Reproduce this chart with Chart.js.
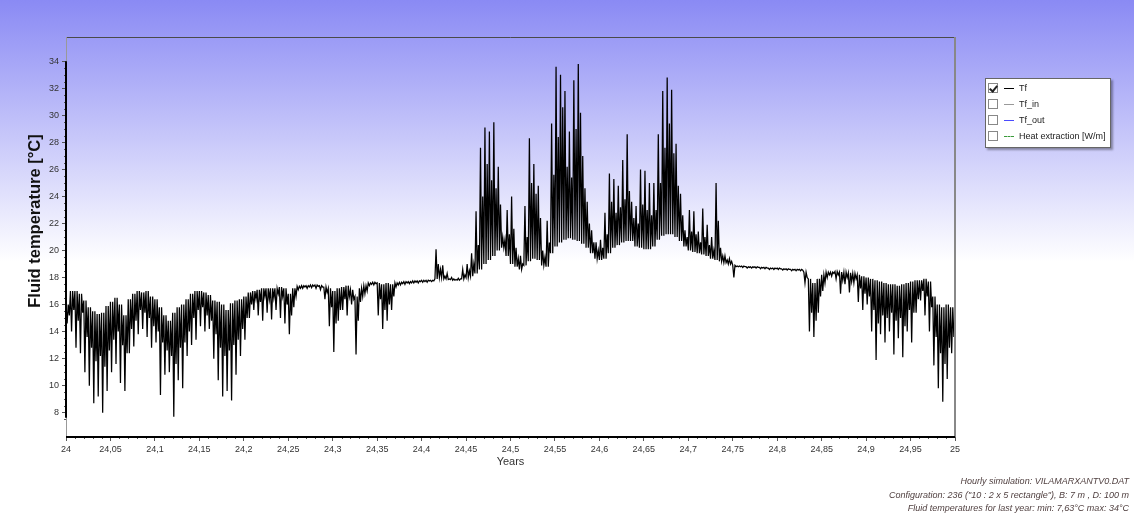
<!DOCTYPE html>
<html>
<head>
<meta charset="utf-8">
<title>Fluid temperature</title>
<script src="https://cdn.jsdelivr.net/npm/chart.js@4.4.1/dist/chart.umd.min.js"></script>
<style>
  html, body { margin: 0; padding: 0; }
  body {
    width: 1134px; height: 518px; overflow: hidden; position: relative;
    background: linear-gradient(to bottom, #8a8af4 0px, #ffffff 262px, #ffffff 518px);
    font-family: "Liberation Sans", Arial, sans-serif;
  }
  #chart { position: absolute; left: 0; top: 0; }
  .legend {
    position: absolute; left: 985px; top: 78px; width: 124px; height: 68px;
    background: #fff; border: 1px solid #666; box-shadow: 2px 2px 2px rgba(0,0,0,0.35);
    font-size: 9px; color: #222;
  }
  .legend .row { position: absolute; left: 2px; height: 12px; line-height: 12px; }
  .legend .box { position: absolute; left: 0; top: 1px; width: 8px; height: 8px; border: 1px solid #888; background: #fff; }
  .legend .tick {
    position: absolute; left: 2px; top: 0px; width: 3px; height: 6px;
    border-right: 2px solid #222; border-bottom: 2px solid #222; transform: rotate(40deg);
  }
  .legend .swatch { position: absolute; left: 16px; top: 6px; width: 10px; height: 0; border-top: 1px solid #000; }
  .legend .label { position: absolute; left: 31px; top: 0; white-space: nowrap; }
  .footer {
    position: absolute; right: 5px; top: 475px; text-align: right;
    font-style: italic; font-size: 9px; color: #4f3f3f; line-height: 13.5px; white-space: nowrap;
  }
</style>
</head>
<body>
<canvas id="chart" width="1134" height="518"></canvas>

<div class="legend">
  <div class="row" style="top:3px"><span class="box"><span class="tick"></span></span><span class="swatch" style="border-color:#000"></span><span class="label">Tf</span></div>
  <div class="row" style="top:19px"><span class="box"></span><span class="swatch" style="border-color:#999"></span><span class="label">Tf_in</span></div>
  <div class="row" style="top:35px"><span class="box"></span><span class="swatch" style="border-color:#4a4aff"></span><span class="label">Tf_out</span></div>
  <div class="row" style="top:51px"><span class="box"></span><span class="swatch" style="border-top:1px dashed #3a9a3a"></span><span class="label">Heat extraction [W/m]</span></div>
</div>

<div class="footer">
  <div>Hourly simulation: VILAMARXANTV0.DAT</div>
  <div>Configuration: 236 ("10 : 2 x 5 rectangle"), B: 7 m , D: 100 m</div>
  <div>Fluid temperatures for last year: min: 7,63°C max: 34°C</div>
</div>

<script>
// one sample every 0.005 year, starting at year 24
const YEAR_START = 24;
const STEP = 0.005;

// resting level of the fluid temperature in each sample [°C]
const tfLevel = [
  16.0, 17.0, 17.0, 16.8, 16.3, 15.8, 15.5, 15.3, 15.4, 15.9,
  16.2, 16.5, 16.0, 15.2, 16.4, 16.8, 17.0, 16.9, 17.0, 16.6,
  16.4, 15.8, 15.2, 14.8, 15.4, 15.8, 16.0, 16.4, 16.8, 17.0,
  17.0, 16.9, 16.7, 16.3, 16.2, 16.0, 15.6, 16.1, 16.3, 16.4,
  16.6, 16.9, 17.0, 17.1, 17.2, 17.2, 17.2, 17.2, 17.3, 17.2,
  16.8, 17.2, 17.35, 17.4, 17.4, 17.45, 17.45, 17.4, 17.3, 17.2,
  17.0, 17.2, 17.3, 17.4, 17.1, 16.6, 17.2, 17.4, 17.6, 17.65,
  17.6, 17.5, 17.6, 17.5, 17.6, 17.65, 17.7, 17.7, 17.75, 17.75,
  17.8, 17.8, 17.8, 17.9, 18.0, 17.9, 17.85, 17.8, 17.8, 17.9,
  18.0, 18.1, 18.3, 18.6, 19.0, 19.3, 19.6, 20.0, 20.2, 19.6,
  19.0, 18.8, 18.6, 18.9, 19.2, 19.4, 19.3, 18.9, 18.8, 19.8,
  20.3, 20.6, 20.8, 20.9, 20.8, 20.7, 20.5, 20.2, 19.8, 19.4,
  19.3, 19.4, 19.8, 20.2, 20.4, 20.6, 20.7, 20.7, 20.3, 20.2,
  20.1, 20.1, 20.3, 20.8, 21.1, 21.2, 21.2, 21.0, 20.7, 20.3,
  20.0, 19.9, 19.8, 19.7, 19.6, 19.4, 19.3, 19.2, 19.1, 19.0,
  18.9, 18.85, 18.85, 18.8, 18.8, 18.8, 18.75, 18.75, 18.7, 18.7,
  18.7, 18.65, 18.65, 18.6, 18.6, 18.6, 18.4, 17.9, 17.6, 17.9,
  18.2, 18.4, 18.4, 18.45, 18.4, 18.4, 18.35, 18.3, 18.2, 18.1,
  18.0, 17.9, 17.8, 17.7, 17.6, 17.5, 17.5, 17.4, 17.5, 17.6,
  17.7, 17.8, 17.8, 17.9, 17.7, 16.6, 16.0, 15.8, 16.0, 15.8
];

// largest hourly swing in each sample [°C]
const tfSwing = [
  14.6, 14.0, 12.8, 12.4, 11.0, 10.0, 8.7, 9.2, 8.0, 9.6,
  11.0, 11.6, 10.2, 9.6, 12.4, 12.9, 13.8, 14.2, 13.6, 12.8,
  13.2, 9.3, 10.8, 11.0, 7.7, 10.4, 9.8, 12.2, 13.0, 13.4,
  14.4, 14.0, 14.2, 12.0, 10.4, 9.2, 9.6, 8.9, 10.8, 12.2,
  13.4, 15.0, 15.6, 15.2, 14.8, 15.4, 14.9, 15.6, 15.0, 14.6,
  13.8, 15.8, 17.1, 17.2, 17.2, 17.25, 17.2, 17.1, 16.4, 14.4,
  12.5, 14.8, 15.6, 15.2, 16.0, 12.3, 16.2, 16.8, 17.4, 17.45,
  15.2, 14.2, 14.8, 15.6, 17.3, 17.45, 17.5, 17.55, 17.6, 17.6,
  17.65, 17.65, 17.7, 20.1, 18.6, 18.1, 17.9, 17.9, 17.95, 18.6,
  19.0, 19.8, 22.9, 27.6, 29.1, 28.8, 29.5, 26.2, 21.0, 23.0,
  24.0, 20.2, 19.6, 23.3, 28.3, 26.4, 24.8, 20.0, 22.2, 29.4,
  33.6, 33.0, 31.8, 28.8, 32.6, 33.8, 27.0, 23.6, 21.5, 20.6,
  20.8, 22.8, 25.7, 25.3, 24.8, 26.7, 28.6, 23.6, 23.3, 26.0,
  25.9, 25.0, 25.0, 28.6, 31.8, 32.8, 31.9, 27.9, 24.2, 21.5,
  23.0, 22.9, 21.4, 23.1, 21.9, 21.0, 25.0, 20.2, 19.6, 19.4,
  18.0, 18.8, 18.75, 18.7, 18.7, 18.7, 18.65, 18.65, 18.6, 18.6,
  18.6, 18.55, 18.55, 18.5, 18.5, 18.5, 17.6, 14.0, 13.6, 15.4,
  17.0, 18.0, 18.1, 17.9, 16.8, 17.5, 16.9, 17.6, 16.2, 15.6,
  16.0, 14.0, 11.9, 13.8, 13.2, 14.0, 12.3, 13.5, 12.1, 14.0,
  13.2, 15.4, 16.3, 15.2, 14.0, 11.5, 9.8, 8.8, 10.5, 12.4
];

// second, smaller daily swing in each sample [°C]
const tfSwing2 = [
  15.2, 15.6, 14.8, 15.4, 13.6, 12.8, 11.8, 12.2, 11.4, 12.6,
  13.4, 14.0, 13.0, 12.4, 14.2, 14.8, 15.6, 15.4, 15.0, 14.4,
  14.0, 13.2, 12.6, 12.2, 11.6, 12.8, 13.2, 14.0, 15.0, 15.6,
  15.8, 15.2, 14.8, 13.8, 12.8, 12.2, 12.6, 13.0, 13.4, 14.2,
  15.0, 16.0, 16.4, 16.2, 16.6, 16.4, 16.5, 16.8, 16.6, 16.0,
  15.2, 16.6, 17.2, 17.3, 17.3, 17.35, 17.35, 17.3, 16.9, 15.8,
  14.6, 15.6, 16.4, 16.6, 16.4, 14.8, 16.6, 17.0, 17.5, 17.55,
  16.4, 15.6, 16.0, 16.6, 17.45, 17.55, 17.6, 17.6, 17.65, 17.7,
  17.7, 17.75, 17.75, 19.0, 18.9, 18.3, 18.0, 17.85, 17.9, 18.2,
  18.5, 19.0, 20.4, 24.0, 26.4, 25.2, 24.6, 23.4, 20.8, 21.2,
  21.6, 19.4, 19.0, 21.0, 25.0, 24.2, 22.4, 19.5, 20.6, 25.6,
  28.4, 30.6, 26.2, 25.4, 29.0, 30.2, 24.6, 22.0, 20.6, 20.0,
  20.2, 21.2, 23.6, 22.8, 23.2, 23.8, 24.4, 22.4, 22.0, 23.4,
  23.0, 22.6, 23.0, 25.0, 27.6, 29.4, 27.2, 24.8, 22.6, 21.0,
  21.4, 21.2, 20.6, 21.0, 20.4, 20.0, 22.2, 19.6, 19.3, 19.2,
  18.8, 18.8, 18.8, 18.75, 18.75, 18.75, 18.7, 18.7, 18.65, 18.65,
  18.65, 18.6, 18.6, 18.55, 18.55, 18.55, 18.0, 15.4, 14.8, 16.6,
  17.6, 18.2, 18.3, 18.2, 17.8, 18.0, 17.7, 17.9, 17.2, 16.8,
  16.6, 15.6, 14.6, 15.2, 15.0, 15.4, 14.8, 15.0, 14.4, 15.6,
  15.4, 16.4, 17.0, 16.6, 15.8, 13.6, 12.4, 11.6, 12.8, 13.6
];

// min / max over the last year, from the footer
const tfMin = 7.63;
const tfMax = 34;

const yearTicksStep = 0.05;
const tempTicksStep = 2;
const yTitle = 'Fluid temperature [°C]';

// level -> swing -> level -> second swing, for every sample
const points = [];
tfLevel.forEach((level, i) => {
  const x = YEAR_START + i * STEP;
  points.push({ x: x, y: level });
  points.push({ x: x + STEP * 0.25, y: tfSwing[i] });
  points.push({ x: x + STEP * 0.5, y: level });
  points.push({ x: x + STEP * 0.75, y: tfSwing2[i] });
});

// small ticks between labelled ones, the plot frame and the y title
const framePlugin = {
  id: 'frame',
  afterDraw(chart) {
    const { ctx, chartArea: a, scales: { x, y } } = chart;
    ctx.save();

    ctx.strokeStyle = '#555';
    ctx.lineWidth = 1;
    ctx.beginPath();
    for (let k = 0; k <= 100; k++) {
      if (k % 5 === 0) continue;
      const px = Math.round(x.getPixelForValue(24 + k / 100)) + 0.5;
      ctx.moveTo(px, a.bottom);
      ctx.lineTo(px, a.bottom + 2);
    }
    for (let k = 15; k <= 68; k++) {
      if (k % 4 === 0) continue;
      const py = Math.round(y.getPixelForValue(k / 2)) + 0.5;
      ctx.moveTo(a.left - 2, py);
      ctx.lineTo(a.left, py);
    }
    ctx.stroke();

    // top and right border
    ctx.strokeStyle = '#4a4a4a';
    ctx.beginPath();
    ctx.moveTo(a.left, a.top + 0.5);
    ctx.lineTo(a.right, a.top + 0.5);
    ctx.stroke();
    ctx.strokeStyle = '#888';
    ctx.lineWidth = 2;
    ctx.beginPath();
    ctx.moveTo(a.right, a.top);
    ctx.lineTo(a.right, a.bottom);
    ctx.stroke();

    // left border, thick over the range of values
    ctx.strokeStyle = '#999';
    ctx.lineWidth = 1;
    ctx.beginPath();
    ctx.moveTo(a.left + 0.5, a.top);
    ctx.lineTo(a.left + 0.5, a.bottom);
    ctx.stroke();
    ctx.strokeStyle = '#000';
    ctx.lineWidth = 2;
    ctx.beginPath();
    ctx.moveTo(a.left, y.getPixelForValue(tfMax));
    ctx.lineTo(a.left, y.getPixelForValue(tfMin));
    ctx.stroke();

    // bottom axis
    ctx.beginPath();
    ctx.moveTo(a.left, a.bottom);
    ctx.lineTo(a.right, a.bottom);
    ctx.stroke();

    // y title, a bit above the middle like the original
    ctx.translate(35, 221);
    ctx.rotate(-Math.PI / 2);
    ctx.fillStyle = '#111';
    ctx.font = 'bold 16.5px "Liberation Sans", Arial, sans-serif';
    ctx.textAlign = 'center';
    ctx.textBaseline = 'middle';
    ctx.fillText(yTitle, 0, 0);

    ctx.restore();
  }
};

new Chart(document.getElementById('chart'), {
  type: 'line',
  data: {
    datasets: [{
      label: 'Tf',
      data: points,
      borderColor: '#000',
      borderWidth: 1.25,
      pointRadius: 0,
      tension: 0,
      fill: false
    }]
  },
  options: {
    responsive: false,
    animation: false,
    parsing: false,
    layout: { padding: { left: 0, top: 37, right: 179, bottom: 41 } },
    plugins: {
      legend: { display: false },
      tooltip: { enabled: false }
    },
    scales: {
      x: {
        type: 'linear',
        min: 24,
        max: 25,
        afterFit: (scale) => { scale.height = 40; },
        border: { display: false },
        grid: { drawOnChartArea: false, drawTicks: true, tickLength: 4, tickColor: '#555' },
        ticks: {
          stepSize: yearTicksStep,
          autoSkip: false,
          maxRotation: 0,
          padding: 3,
          color: '#333',
          font: { size: 9, family: '"Liberation Sans", Arial, sans-serif' },
          callback: (v) => String(+v.toFixed(2)).replace('.', ',')
        },
        title: {
          display: true,
          text: 'Years',
          color: '#333',
          padding: { top: 0, bottom: 8 },
          font: { size: 11, family: '"Liberation Sans", Arial, sans-serif' }
        }
      },
      y: {
        min: 6.2,
        max: 35.8,
        afterFit: (scale) => { scale.width = 66; },
        border: { display: false },
        grid: { drawOnChartArea: false, drawTicks: true, tickLength: 4, tickColor: '#555' },
        ticks: {
          stepSize: tempTicksStep,
          includeBounds: false,
          padding: 3,
          color: '#333',
          font: { size: 9, family: '"Liberation Sans", Arial, sans-serif' }
        }
      }
    }
  },
  plugins: [framePlugin]
});
</script>
</body>
</html>
